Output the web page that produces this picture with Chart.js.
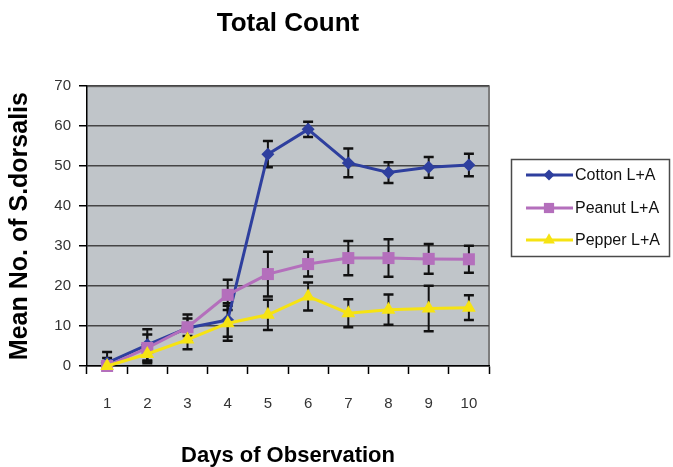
<!DOCTYPE html>
<html>
<head>
<meta charset="utf-8">
<title>Total Count</title>
<script src="https://cdn.jsdelivr.net/npm/chart.js@4.4.1/dist/chart.umd.min.js"></script>
<style>
  html, body { margin: 0; padding: 0; background: #ffffff; }
  #wrap { width: 673px; height: 467px; }
</style>
</head>
<body>
<div id="wrap"><canvas id="chart" width="673" height="467"></canvas></div>
<script>
// Days of observation
const days = ['1', '2', '3', '4', '5', '6', '7', '8', '9', '10'];

// Mean counts per treatment
const cotton = [0.8, 5.3, 9.5, 11.5, 53.0, 59.2, 50.8, 48.4, 49.7, 50.3];
const peanut = [0.0, 4.5, 9.7, 17.8, 23.0, 25.5, 27.0, 27.0, 26.8, 26.7];
const pepper = [0.0, 3.0, 6.6, 10.7, 12.8, 17.4, 13.2, 14.1, 14.4, 14.6];

// Standard error (+/-) for each mean
const cottonErr = [2.7, 3.9, 3.4, 4.2, 3.3, 1.9, 3.6, 2.6, 2.6, 2.8];
const peanutErr = [2.0, 3.4, 2.2, 3.8, 5.6, 3.1, 4.3, 4.7, 3.7, 3.4];
const pepperErr = [1.0, 2.3, 2.4, 4.4, 3.8, 3.5, 3.5, 3.8, 5.7, 3.1];

const seriesNames = ['Cotton L+A', 'Peanut L+A', 'Pepper L+A'];
const yTicks = [0, 10, 20, 30, 40, 50, 60, 70];

const FONT = "'Liberation Sans', Arial, sans-serif";
const COLORS = ['#2E3F9E', '#B46FBC', '#F6E312'];
const SHAPES = ['rectRot', 'rect', 'triangle'];
const RADII = [6.5, 8.5, 8];

// Grey plot background and frame behind the grid
const plotBackground = {
  id: 'plotBackground',
  beforeDraw(chart) {
    const {ctx, chartArea: a} = chart;
    ctx.save();
    ctx.fillStyle = '#C0C5C9';
    ctx.fillRect(a.left, a.top, a.right - a.left, a.bottom - a.top);
    ctx.strokeStyle = '#7d7d7d';
    ctx.lineWidth = 2;
    ctx.beginPath();
    ctx.moveTo(a.left, a.top);
    ctx.lineTo(a.right, a.top);
    ctx.lineTo(a.right, a.bottom);
    ctx.stroke();
    ctx.restore();
  }
};

// Vertical error bars with caps, drawn under the lines and markers
const errorBars = {
  id: 'errorBars',
  beforeDatasetsDraw(chart) {
    const {ctx, chartArea: a} = chart;
    const yScale = chart.scales.y;
    ctx.save();
    ctx.beginPath();
    ctx.rect(a.left - 10, a.top - 10, a.right - a.left + 20, a.bottom - a.top + 10);
    ctx.clip();
    ctx.strokeStyle = '#111111';
    chart.data.datasets.forEach((ds, di) => {
      const meta = chart.getDatasetMeta(di);
      meta.data.forEach((pt, i) => {
        const v = ds.data[i];
        const e = ds.errors[i];
        const x = pt.x;
        const yTop = yScale.getPixelForValue(v + e);
        const yBot = yScale.getPixelForValue(v - e);
        ctx.lineWidth = 2;
        ctx.beginPath();
        ctx.moveTo(x, yTop);
        ctx.lineTo(x, yBot);
        ctx.stroke();
        ctx.lineWidth = 2.5;
        ctx.beginPath();
        ctx.moveTo(x - 5, yTop);
        ctx.lineTo(x + 5, yTop);
        ctx.moveTo(x - 5, yBot);
        ctx.lineTo(x + 5, yBot);
        ctx.stroke();
      });
    });
    ctx.restore();
  }
};

function drawMarker(ctx, shape, r, x, y, color) {
  ctx.save();
  ctx.fillStyle = color;
  ctx.beginPath();
  if (shape === 'rectRot') {
    ctx.moveTo(x, y - r); ctx.lineTo(x + r, y); ctx.lineTo(x, y + r); ctx.lineTo(x - r, y);
  } else if (shape === 'rect') {
    const s = r * Math.SQRT1_2;
    ctx.rect(x - s, y - s, 2 * s, 2 * s);
  } else {
    const h = r * 1.5, w = r * Math.sqrt(3) / 2;
    ctx.moveTo(x, y - r); ctx.lineTo(x + w, y + h - r); ctx.lineTo(x - w, y + h - r);
  }
  ctx.closePath();
  ctx.fill();
  ctx.restore();
}

// Boxed legend to the right of the plot
const boxLegend = {
  id: 'boxLegend',
  afterDraw(chart) {
    const {ctx} = chart;
    const box = {x: 511.5, y: 159.5, w: 158, h: 97};
    ctx.save();
    ctx.fillStyle = '#ffffff';
    ctx.fillRect(box.x, box.y, box.w, box.h);
    ctx.strokeStyle = '#4a4a4a';
    ctx.lineWidth = 1.5;
    ctx.strokeRect(box.x, box.y, box.w, box.h);
    const rows = [175, 208, 240];
    chart.data.datasets.forEach((ds, i) => {
      const y = rows[i];
      ctx.strokeStyle = ds.borderColor;
      ctx.lineWidth = 3;
      ctx.beginPath();
      ctx.moveTo(526, y);
      ctx.lineTo(573, y);
      ctx.stroke();
      drawMarker(ctx, SHAPES[i], RADII[i] * 0.85, 549, y, ds.borderColor);
      ctx.fillStyle = '#111111';
      ctx.font = '16px ' + FONT;
      ctx.textBaseline = 'middle';
      ctx.textAlign = 'left';
      ctx.fillText(ds.label, 575, y + 1);
    });
    ctx.restore();
  }
};

const seriesValues = [cotton, peanut, pepper];
const seriesErrors = [cottonErr, peanutErr, pepperErr];

const datasets = seriesNames.map((name, i) => ({
  label: name,
  data: seriesValues[i],
  errors: seriesErrors[i],
  borderColor: COLORS[i],
  backgroundColor: COLORS[i],
  borderWidth: 3,
  pointStyle: SHAPES[i],
  pointRadius: RADII[i],
  pointBorderWidth: 0,
  pointHoverRadius: RADII[i],
  tension: 0,
  fill: false,
  clip: false,
  // cotton at the bottom, pepper on top
  order: 2 - i
}));

new Chart(document.getElementById('chart'), {
  type: 'line',
  data: { labels: days, datasets },
  options: {
    responsive: false,
    animation: false,
    devicePixelRatio: 1,
    layout: { padding: { left: 0, right: 184, top: 0, bottom: 0 } },
    plugins: {
      legend: { display: false },
      tooltip: { enabled: false },
      title: {
        display: true,
        text: 'Total Count',
        fullSize: false,
        color: '#000000',
        font: { family: FONT, size: 26, weight: 'bold' },
        padding: { top: 8, bottom: 47 }
      }
    },
    scales: {
      x: {
        offset: true,
        afterFit(s) { s.height = 101; },
        grid: {
          offset: true,
          drawOnChartArea: false,
          drawTicks: true,
          tickLength: 8,
          tickColor: '#000000',
          tickWidth: 1.5
        },
        border: { color: '#000000', width: 1.5 },
        ticks: {
          color: '#333333',
          padding: 21,
          font: { family: FONT, size: 15 }
        },
        title: {
          display: true,
          text: 'Days of Observation',
          color: '#000000',
          font: { family: FONT, size: 22, weight: 'bold' },
          padding: { top: 0, bottom: -2 }
        }
      },
      y: {
        min: 0,
        max: 70,
        afterFit(s) { s.width = 87; },
        afterBuildTicks(s) { s.ticks = yTicks.map(v => ({ value: v })); },
        grid: {
          color: '#454545',
          lineWidth: 1.5,
          drawTicks: true,
          tickLength: 8,
          tickColor: '#000000',
          tickWidth: 1.5
        },
        border: { color: '#000000', width: 1.5 },
        ticks: {
          color: '#333333',
          padding: 8,
          font: { family: FONT, size: 15 }
        },
        title: {
          display: true,
          text: 'Mean No. of S.dorsalis',
          color: '#000000',
          font: { family: FONT, size: 25, weight: 'bold' },
          padding: { top: 5, bottom: 0 }
        }
      }
    }
  },
  plugins: [plotBackground, errorBars, boxLegend]
});
</script>
</body>
</html>
